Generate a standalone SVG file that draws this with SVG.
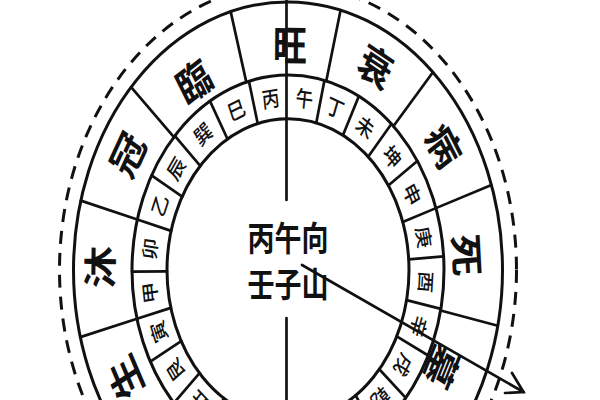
<svg xmlns="http://www.w3.org/2000/svg" width="600" height="400" viewBox="0 0 600 400">
<style>
.ln{fill:none;stroke:#111;stroke-width:2.7;vector-effect:non-scaling-stroke;stroke-linecap:round}
.ring{fill:none;stroke:#111;stroke-width:3;vector-effect:non-scaling-stroke}
.dash{fill:none;stroke:#111;stroke-width:3;stroke-dasharray:13 9;vector-effect:non-scaling-stroke}
text{font-family:"Noto Sans CJK TC","Noto Sans CJK SC",sans-serif;fill:#111;text-anchor:middle;dominant-baseline:central}
.big{font-size:34px;font-weight:700}
.sm{font-size:17.5px;font-weight:500}
.ctr{font-size:27px;font-weight:700}
</style>
<rect width="600" height="400" fill="#fff"/>
<g id="compass" transform="translate(288 270) scale(1 1.25)">
  <g id="rings">
    <circle class="dash" r="228.5"/>
    <circle class="ring" r="214.5"/>
    <circle class="ring" r="156"/>
    <circle class="ring" r="121"/>
  </g>
  <g id="outer-spokes">
    <line class="ln" y1="-156" y2="-214.5" transform="rotate(-15.5)"/>
    <line class="ln" y1="-156" y2="-214.5" transform="rotate(-47)"/>
    <line class="ln" y1="-156" y2="-214.5" transform="rotate(-75)"/>
    <line class="ln" y1="-156" y2="-214.5" transform="rotate(-104.5)"/>
    <line class="ln" y1="-156" y2="-214.5" transform="rotate(14.2)"/>
    <line class="ln" y1="-156" y2="-214.5" transform="rotate(42.5)"/>
    <line class="ln" y1="-156" y2="-214.5" transform="rotate(71.5)"/>
    <line class="ln" y1="-156" y2="-214.5" transform="rotate(102)"/>
  </g>
  <g id="inner-spokes">
    <line class="ln" y1="-121" y2="-156" transform="rotate(-14.5)"/>
    <line class="ln" y1="-121" y2="-156" transform="rotate(-30)"/>
    <line class="ln" y1="-121" y2="-156" transform="rotate(-46.5)"/>
    <line class="ln" y1="-121" y2="-156" transform="rotate(-61)"/>
    <line class="ln" y1="-121" y2="-156" transform="rotate(-75)"/>
    <line class="ln" y1="-121" y2="-156" transform="rotate(-90.5)"/>
    <line class="ln" y1="-121" y2="-156" transform="rotate(-104.5)"/>
    <line class="ln" y1="-121" y2="-156" transform="rotate(-118)"/>
    <line class="ln" y1="-121" y2="-156" transform="rotate(-133)"/>
    <line class="ln" y1="-121" y2="-156" transform="rotate(-148)"/>
    <line class="ln" y1="-121" y2="-156" transform="rotate(13.5)"/>
    <line class="ln" y1="-121" y2="-156" transform="rotate(27)"/>
    <line class="ln" y1="-121" y2="-156" transform="rotate(41.5)"/>
    <line class="ln" y1="-121" y2="-156" transform="rotate(56)"/>
    <line class="ln" y1="-121" y2="-156" transform="rotate(71.5)"/>
    <line class="ln" y1="-121" y2="-156" transform="rotate(86)"/>
    <line class="ln" y1="-121" y2="-156" transform="rotate(101.5)"/>
    <line class="ln" y1="-121" y2="-156" transform="rotate(116)"/>
    <line class="ln" y1="-121" y2="-156" transform="rotate(131)"/>
    <line class="ln" y1="-121" y2="-156" transform="rotate(146)"/>
  </g>
  <g id="stages">
    <text class="big" transform="rotate(0.6) translate(0 -182)">旺</text>
    <text class="big" transform="rotate(-32) translate(0 -180)">臨</text>
    <text class="big" transform="rotate(-60) translate(0 -187)">冠</text>
    <text class="big" transform="rotate(-89.3) translate(0 -190)">沐</text>
    <text class="big" transform="rotate(-118) translate(0 -186)">生</text>
    <text class="big" transform="rotate(28.3) translate(0 -187)">衰</text>
    <text class="big" transform="rotate(57.4) translate(0 -187)">病</text>
    <text class="big" transform="rotate(86.2) translate(0 -181)">死</text>
    <text class="big" transform="rotate(116.6) translate(0 -174)">墓</text>
  </g>
  <g id="mountains">
    <text class="sm" transform="rotate(-7.3) translate(0 -139)">丙</text>
    <text class="sm" transform="rotate(-22) translate(0 -139)">巳</text>
    <text class="sm" transform="rotate(-38) translate(0 -139)">巽</text>
    <text class="sm" transform="rotate(-54) translate(0 -139)">辰</text>
    <text class="sm" transform="rotate(-68) translate(0 -139)">乙</text>
    <text class="sm" transform="rotate(-83) translate(0 -140)">卯</text>
    <text class="sm" transform="rotate(-97.5) translate(0 -140)">甲</text>
    <text class="sm" transform="rotate(-111) translate(0 -139)">寅</text>
    <text class="sm" transform="rotate(-125.5) translate(0 -139)">艮</text>
    <text class="sm" transform="rotate(-140) translate(0 -139)">丑</text>
    <text class="sm" transform="rotate(6.8) translate(0 -139)">午</text>
    <text class="sm" transform="rotate(20) translate(0 -139)">丁</text>
    <text class="sm" transform="rotate(34) translate(0 -139)">未</text>
    <text class="sm" transform="rotate(49) translate(0 -139)">坤</text>
    <text class="sm" transform="rotate(64) translate(0 -139)">申</text>
    <text class="sm" transform="rotate(79) translate(0 -139)">庚</text>
    <text class="sm" transform="rotate(94) translate(0 -139)">酉</text>
    <text class="sm" transform="rotate(109) translate(0 -139)">辛</text>
    <text class="sm" transform="rotate(123.5) translate(0 -139)">戌</text>
    <text class="sm" transform="rotate(138) translate(0 -139)">乾</text>
  </g>
  <g id="center-label">
    <text class="ctr" x="0" y="-26.4">丙午向</text>
    <text class="ctr" x="0" y="10.4">壬子山</text>
  </g>
</g>
<g id="connectors">
  <line class="ln" x1="286.5" y1="0" x2="286.5" y2="200"/>
  <line class="ln" x1="286.5" y1="318" x2="286.5" y2="400"/>
  <line class="ln" x1="302" y1="265" x2="523.5" y2="392"/>
  <polyline class="ln" points="512,373 523.5,392 505,393"/>
</g>
</svg>
